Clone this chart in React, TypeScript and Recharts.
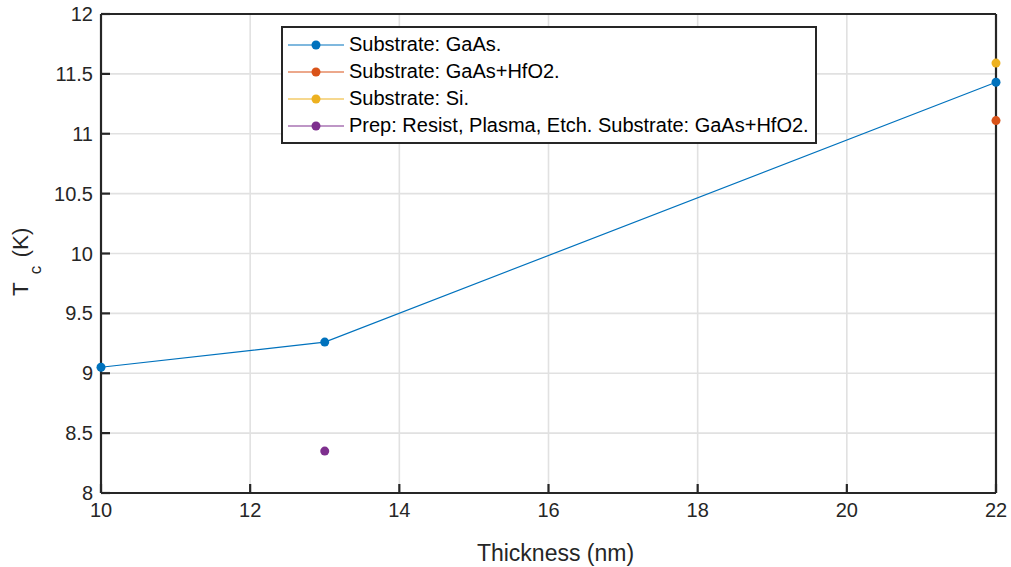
import React from "react";
import {
  ComposedChart,
  Line,
  XAxis,
  YAxis,
  CartesianGrid,
  Label,
} from "recharts";

// Thickness (nm) and critical temperature (K) for each substrate
const gaAsThickness = [10, 13, 22];
const gaAsTc = [9.05, 9.26, 11.43];

const gaAsHfO2Thickness = [22];
const gaAsHfO2Tc = [11.11];

const siThickness = [22];
const siTc = [11.59];

const prepThickness = [13];
const prepTc = [8.35];

const xTicks = [10, 12, 14, 16, 18, 20, 22];
const yTicks = [8, 8.5, 9, 9.5, 10, 10.5, 11, 11.5, 12];

const toPoints = (xs: number[], ys: number[]) =>
  xs.map((thickness, i) => ({ thickness, tc: ys[i] }));

const series = [
  { name: "Substrate: GaAs.", color: "#0072BD", data: toPoints(gaAsThickness, gaAsTc) },
  { name: "Substrate: GaAs+HfO2.", color: "#D95319", data: toPoints(gaAsHfO2Thickness, gaAsHfO2Tc) },
  { name: "Substrate: Si.", color: "#EDB120", data: toPoints(siThickness, siTc) },
  {
    name: "Prep: Resist, Plasma, Etch. Substrate: GaAs+HfO2.",
    color: "#7E2F8E",
    data: toPoints(prepThickness, prepTc),
  },
];

const FONT = '"Liberation Sans", Arial, Helvetica, sans-serif';
const AXIS = "#262626";
const frame = { stroke: AXIS, strokeWidth: 2.2 };

// legend drawn over the plot, like a boxed legend in the upper middle
function LegendBox() {
  return (
    <div
      style={{
        position: "absolute",
        left: 281,
        top: 26,
        width: 536,
        border: `2px solid ${AXIS}`,
        background: "#fff",
        padding: "3px 0",
        fontFamily: FONT,
        fontSize: 20,
        color: "#000",
        boxSizing: "border-box",
      }}
    >
      {series.map((s) => (
        <div key={s.name} style={{ display: "flex", alignItems: "center", height: 27 }}>
          <svg width={66} height={12} style={{ flex: "none" }}>
            <line x1={5} y1={6} x2={61} y2={6} stroke={s.color} strokeWidth={1.2} />
            <circle cx={33} cy={6} r={4.5} fill={s.color} />
          </svg>
          <span style={{ whiteSpace: "nowrap" }}>{s.name}</span>
        </div>
      ))}
    </div>
  );
}

export default function App() {
  return (
    <div style={{ position: "absolute", left: 0, top: 0, background: "#fff" }}>
      <ComposedChart
        width={1011}
        height={567}
        margin={{ top: 13, right: 14, bottom: 0, left: 0 }}
      >
        <CartesianGrid stroke="#e1e1e1" strokeWidth={1.6} />
        <XAxis
          dataKey="thickness"
          type="number"
          domain={[10, 22]}
          ticks={xTicks}
          height={74}
          axisLine={frame}
          tickLine={frame}
          tickSize={-9}
          tickMargin={19}
          tick={{ fill: AXIS, fontSize: 20, fontFamily: FONT }}
        >
          <Label
            content={({ viewBox }: any) => (
              <text
                x={viewBox.x + viewBox.width / 2 + 7}
                y={viewBox.y + 68}
                textAnchor="middle"
                fill={AXIS}
                fontSize={23}
                fontFamily={FONT}
              >
                Thickness (nm)
              </text>
            )}
          />
        </XAxis>
        <XAxis
          xAxisId="top"
          orientation="top"
          type="number"
          domain={[10, 22]}
          allowDataOverflow
          ticks={xTicks}
          height={1}
          axisLine={frame}
          tickLine={frame}
          tickSize={-9}
          tick={false}
        />
        <YAxis
          type="number"
          domain={[8, 12]}
          ticks={yTicks}
          width={101}
          axisLine={frame}
          tickLine={frame}
          tickSize={-9}
          tickMargin={17}
          tick={{ fill: AXIS, fontSize: 20, fontFamily: FONT }}
        >
          <Label
            content={() => (
              <text
                x={28}
                y={296}
                transform="rotate(-90 28 296)"
                textAnchor="start"
                fill={AXIS}
                fontSize={22.5}
                fontFamily={FONT}
              >
                <tspan>T</tspan>
                <tspan fontSize={17} dx={8} dy={13}>c</tspan>
                <tspan dx={2} dy={-13}> (K)</tspan>
              </text>
            )}
          />
        </YAxis>
        <YAxis
          yAxisId="right"
          orientation="right"
          type="number"
          domain={[8, 12]}
          allowDataOverflow
          ticks={yTicks}
          width={1}
          axisLine={frame}
          tickLine={frame}
          tickSize={-9}
          tick={false}
        />
        {series.map((s) => (
          <Line
            key={s.name}
            name={s.name}
            data={s.data}
            dataKey="tc"
            stroke={s.color}
            strokeWidth={1.2}
            dot={{ r: 4.5, fill: s.color, stroke: s.color, strokeWidth: 0 }}
            activeDot={false}
            isAnimationActive={false}
          />
        ))}
      </ComposedChart>
      <LegendBox />
    </div>
  );
}
